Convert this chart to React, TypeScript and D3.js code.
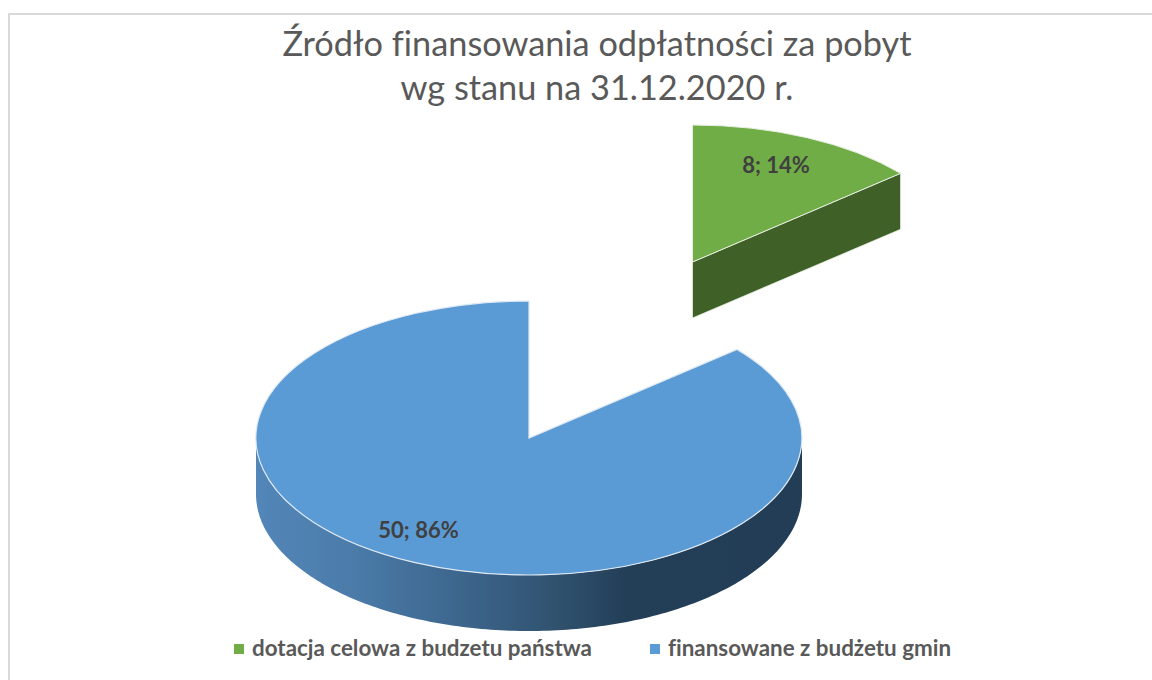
import React from 'react';
import * as d3 from 'd3';

const categories = ['dotacja celowa z budzetu państwa', 'finansowane z budżetu gmin'];
const values = [8, 50];
const percents = [14, 86];
const titleLines = ['Źródło finansowania odpłatności za pobyt', 'wg stanu na 31.12.2020 r.'];

const W = 1152;
const H = 680;
const RX = 273;
const RY = 137;
const DEPTH = 56;
const FONT = 'Lato, Carlito, sans-serif';

// one center per slice, the green one is pulled out
const centers = [{ x: 692.5, y: 262 }, { x: 529, y: 438 }];
const topColors = ['#70ad47', '#5b9bd5'];
const labelPos = [{ x: 776, y: 173 }, { x: 418.5, y: 538 }];
const legendX = [234, 650];

const px = (a: number) => RX * Math.sin(a);
const py = (a: number) => -RY * Math.cos(a);

export default function App() {
    const slices = d3.pie<number>().sort(null)(values);
    const arc = d3.arc<any>().innerRadius(0).outerRadius(1);

    // front wall of the blue slice: visible rim from 90deg to 270deg
    const rim = d3.range(90, 270.5, 1).map(d => (d * Math.PI) / 180);
    const line = d3.line<number[]>();
    const wallTop = rim.map(a => [px(a), py(a)]);
    const wallBottom = rim.slice().reverse().map(a => [px(a), py(a) + DEPTH]);
    const blueWall = line([...wallTop, ...wallBottom]) + 'Z';

    // cut face of the green slice
    const a0 = slices[0].endAngle;
    const greenWall = line([[0, 0], [px(a0), py(a0)], [px(a0), py(a0) + DEPTH], [0, DEPTH]]) + 'Z';

    return (
        <svg
            width={W}
            height={H}
            style={{ position: 'absolute', left: 0, top: 0, background: '#fff', fontVariantLigatures: 'none' }}
        >
            <defs>
                <linearGradient id="wall" gradientUnits="userSpaceOnUse" x1={-RX} x2={RX} y1={0} y2={0}>
                    <stop offset="0" stopColor="#5386b9" />
                    <stop offset="0.18" stopColor="#4a7ba9" />
                    <stop offset="0.4" stopColor="#3b6389" />
                    <stop offset="0.55" stopColor="#30526f" />
                    <stop offset="0.68" stopColor="#233e57" />
                    <stop offset="1" stopColor="#223d55" />
                </linearGradient>
            </defs>

            {/* chart frame */}
            <path d={`M9 ${H}V14H${W}`} fill="none" stroke="#d9d9d9" strokeWidth={2} />

            <text textAnchor="middle" fontFamily={FONT} fontSize={34.3} fill="#595959">
                <tspan x={597} y={56}>{titleLines[0]}</tspan>
                <tspan x={597} y={100}>{titleLines[1]}</tspan>
            </text>

            {/* blue slice */}
            <g transform={`translate(${centers[1].x},${centers[1].y})`}>
                <path d={blueWall} fill="url(#wall)" />
                <path
                    d={arc(slices[1]) as string}
                    transform={`scale(${RX},${RY})`}
                    fill={topColors[1]}
                    stroke="#dfe9f3"
                    strokeWidth={1.2}
                    vectorEffect="non-scaling-stroke"
                />
            </g>

            {/* green slice */}
            <g transform={`translate(${centers[0].x},${centers[0].y})`}>
                <path d={greenWall} fill="#3f6027" stroke="#e8efe2" strokeWidth={0.8} />
                <path
                    d={arc(slices[0]) as string}
                    transform={`scale(${RX},${RY})`}
                    fill={topColors[0]}
                    stroke="#e8efe2"
                    strokeWidth={1}
                    vectorEffect="non-scaling-stroke"
                />
            </g>

            {values.map((v, i) => (
                <text
                    key={i}
                    x={labelPos[i].x}
                    y={labelPos[i].y}
                    textAnchor="middle"
                    fontFamily={FONT}
                    fontWeight={700}
                    fontSize={22}
                    fill="#404040"
                >
                    {`${v}; ${percents[i]}%`}
                </text>
            ))}

            {categories.map((c, i) => (
                <g key={c}>
                    <rect x={legendX[i]} y={644} width={10} height={10} fill={topColors[i]} />
                    <text
                        x={legendX[i] + 18}
                        y={656}
                        fontFamily={FONT}
                        fontWeight={700}
                        fontSize={22.4}
                        fill="#595959"
                    >
                        {c}
                    </text>
                </g>
            ))}
        </svg>
    );
}
